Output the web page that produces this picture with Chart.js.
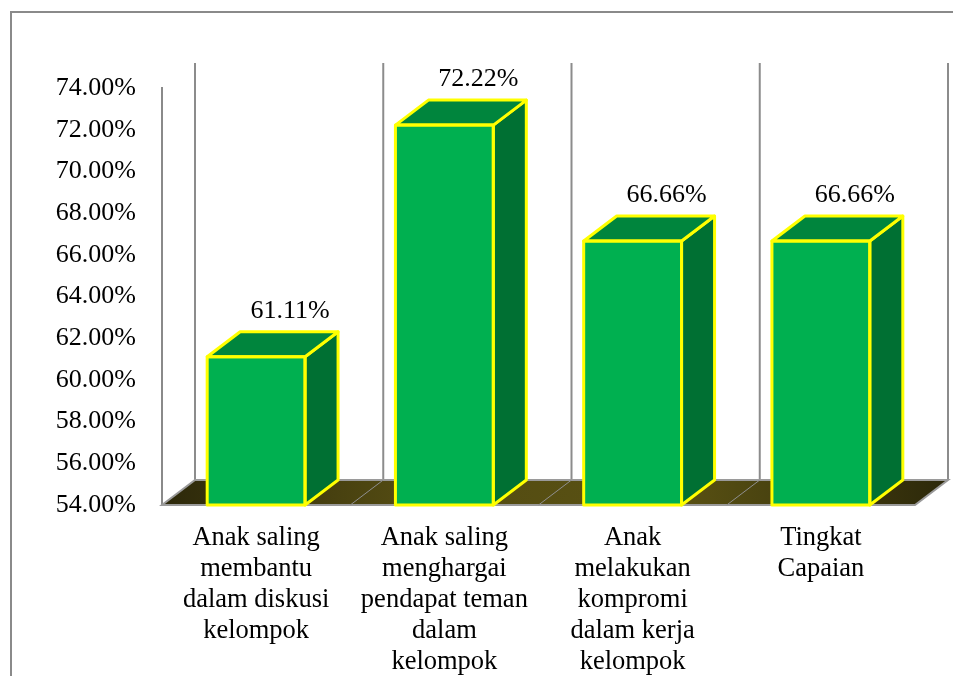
<!DOCTYPE html>
<html>
<head>
<meta charset="utf-8">
<script src="https://cdn.jsdelivr.net/npm/chart.js@4/dist/chart.umd.min.js"></script>
<style>
html, body {
    margin: 0;
    padding: 0;
    background: #fff;
    overflow: hidden;
}
#frame {
    position: absolute;
    left: 10px;
    top: 11px;
    width: 1000px;
    height: 800px;
    border-left: 2px solid #8a8a8a;
    border-top: 2px solid #8a8a8a;
}
#wrap {
    position: absolute;
    left: 0;
    top: 0;
    width: 953px;
    height: 676px;
}
</style>
</head>
<body>
<div id="frame"></div>
<div id="wrap"><canvas id="capaianChart"></canvas></div>
<script>
// data
var categories = [
    ["Anak saling", "membantu", "dalam diskusi", "kelompok"],
    ["Anak saling", "menghargai", "pendapat teman", "dalam", "kelompok"],
    ["Anak", "melakukan", "kompromi", "dalam kerja", "kelompok"],
    ["Tingkat", "Capaian"]
];
var percentValues = [61.11, 72.22, 66.66, 66.66];
var yTicksMin = 54;
var yTicksMax = 74;
var yTickStep = 2;

// 3D depth of the box (pixels)
var DEPTH_X = 33;
var DEPTH_Y = -25;

var fontFamily = "'Liberation Serif', 'Times New Roman', serif";

// back wall, floor and the 3D faces of each bar
var box3d = {
    id: "box3d",
    beforeDatasetsDraw: function (chart) {
        var ctx = chart.ctx;
        var a = chart.chartArea;
        var n = categories.length;
        var cw = (a.right - a.left) / n;
        ctx.save();

        // back wall verticals
        ctx.strokeStyle = "#8c8c8c";
        ctx.lineWidth = 2;
        for (var i = 0; i <= n; i++) {
            var bx = a.left + i * cw + DEPTH_X;
            ctx.beginPath();
            ctx.moveTo(bx, a.top + DEPTH_Y);
            ctx.lineTo(bx, a.bottom + DEPTH_Y);
            ctx.stroke();
        }

        // floor
        var grad = ctx.createLinearGradient(a.left, 0, a.right + DEPTH_X, 0);
        grad.addColorStop(0, "#2c280a");
        grad.addColorStop(0.3, "#524a12");
        grad.addColorStop(0.65, "#5a5213");
        grad.addColorStop(1, "#2c280a");
        ctx.beginPath();
        ctx.moveTo(a.left, a.bottom);
        ctx.lineTo(a.right, a.bottom);
        ctx.lineTo(a.right + DEPTH_X, a.bottom + DEPTH_Y);
        ctx.lineTo(a.left + DEPTH_X, a.bottom + DEPTH_Y);
        ctx.closePath();
        ctx.fillStyle = grad;
        ctx.fill();
        ctx.strokeStyle = "#9a9a9a";
        ctx.lineWidth = 2;
        ctx.stroke();

        // floor dividers
        ctx.lineWidth = 1;
        ctx.strokeStyle = "#8f8f8f";
        for (var j = 1; j < n; j++) {
            var fx = a.left + j * cw;
            ctx.beginPath();
            ctx.moveTo(fx, a.bottom);
            ctx.lineTo(fx + DEPTH_X, a.bottom + DEPTH_Y);
            ctx.stroke();
        }
        ctx.restore();
    },
    afterDatasetsDraw: function (chart) {
        var ctx = chart.ctx;
        var meta = chart.getDatasetMeta(0);
        var bottom = chart.chartArea.bottom;
        ctx.save();
        ctx.lineJoin = "round";
        ctx.lineWidth = 3;
        ctx.strokeStyle = "#ffff00";
        meta.data.forEach(function (bar, i) {
            var p = bar.getProps(["x", "y", "base", "width"], true);
            var l = p.x - p.width / 2, r = p.x + p.width / 2;
            var t = p.y, b = Math.min(p.base, bottom);

            // side face
            ctx.beginPath();
            ctx.moveTo(r, t);
            ctx.lineTo(r + DEPTH_X, t + DEPTH_Y);
            ctx.lineTo(r + DEPTH_X, b + DEPTH_Y);
            ctx.lineTo(r, b);
            ctx.closePath();
            ctx.fillStyle = "#007033";
            ctx.fill();
            ctx.stroke();

            // top face
            ctx.beginPath();
            ctx.moveTo(l, t);
            ctx.lineTo(l + DEPTH_X, t + DEPTH_Y);
            ctx.lineTo(r + DEPTH_X, t + DEPTH_Y);
            ctx.lineTo(r, t);
            ctx.closePath();
            ctx.fillStyle = "#00853d";
            ctx.fill();
            ctx.stroke();

            // front outline on top
            ctx.strokeRect(l, t, r - l, b - t);

            // value label
            ctx.fillStyle = "#000";
            ctx.font = "26px " + fontFamily;
            ctx.textAlign = "center";
            ctx.textBaseline = "middle";
            ctx.fillText(percentValues[i].toFixed(2) + "%", p.x + DEPTH_X + 1, t + DEPTH_Y - 21);
        });
        ctx.restore();
    }
};

var ctx = document.getElementById("capaianChart").getContext("2d");
var capaianChart = new Chart(ctx, {
    type: "bar",
    data: {
        labels: categories,
        datasets: [{
            data: percentValues,
            base: yTicksMin,
            backgroundColor: "#00b050",
            borderColor: "#ffff00",
            borderWidth: 0,
            categoryPercentage: 1,
            barPercentage: 0.52
        }]
    },
    options: {
        responsive: true,
        maintainAspectRatio: false,
        animation: false,
        layout: {
            padding: { top: 88, right: 38, left: 0, bottom: 0 }
        },
        plugins: {
            legend: { display: false },
            tooltip: { enabled: false }
        },
        scales: {
            x: {
                grid: { display: false },
                border: { display: false },
                ticks: {
                    color: "#000",
                    padding: 10,
                    maxRotation: 0,
                    autoSkip: false,
                    font: { family: fontFamily, size: 26.5, lineHeight: "31px" }
                },
                afterFit: function (scale) { scale.height = 171; }
            },
            y: {
                min: yTicksMin,
                max: yTicksMax,
                grid: { display: false },
                border: { display: true, color: "#8a8a8a", width: 2 },
                ticks: {
                    stepSize: yTickStep,
                    color: "#000",
                    padding: 18,
                    font: { family: fontFamily, size: 26 },
                    callback: function (v) { return v.toFixed(2) + "%"; }
                },
                afterFit: function (scale) { scale.width = 162; }
            }
        }
    },
    plugins: [box3d]
});
</script>
</body>
</html>
